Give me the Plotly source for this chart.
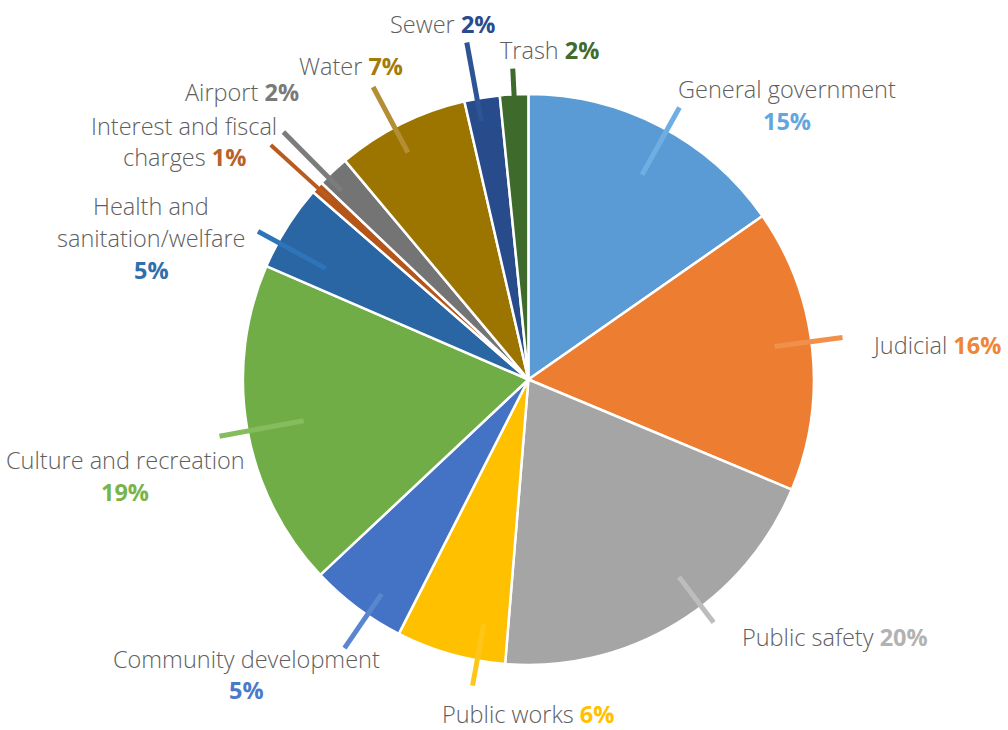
import math
import plotly.graph_objects as go

# ---------------- data ----------------
categories = [
    "General government", "Judicial", "Public safety", "Public works",
    "Community development", "Culture and recreation",
    "Health and sanitation/welfare", "Interest and fiscal charges",
    "Airport", "Water", "Sewer", "Trash",
]
shares = [15.3, 16.0, 20.0, 6.2, 5.5, 18.5, 4.9, 0.7, 1.8, 7.5, 2.0, 1.6]
pct_labels = ["15%", "16%", "20%", "6%", "5%", "19%", "5%", "1%", "2%", "7%", "2%", "2%"]

# ---------------- styles ----------------
slice_colors = ["#5B9BD5", "#ED7D31", "#A5A5A5", "#FFC000", "#4472C4", "#70AD47",
                "#2966A3", "#B4561A", "#747474", "#9C7500", "#284B8C", "#3E6B2C"]
leader_colors = ["#6FAEE3", "#F1904A", "#BDBDBD", "#FFC61A", "#5A86CF", "#84BC5E",
                 "#2E74B8", "#B95A1F", "#7C7C7C", "#B38E35", "#2D5494", "#3E6B2C"]
pct_colors = ["#63A6DE", "#EF8636", "#B2B2B2", "#FFC000", "#4B7ACB", "#78B44A",
              "#2E70AE", "#B9612A", "#7A7A7A", "#A37B08", "#2A4B8D", "#426C2C"]
leader_in = [0.82, 0.87, 0.87, 0.87, 0.91, 0.80, 0.81, 0.94, 0.93, 0.90, 0.92, 0.95]
leader_out = [1.09, 1.11, 1.07, 1.09, 1.14, 1.10, 1.08, 1.22, 1.22, 1.16, 1.20, 1.09]
leader_shift = [1.5, -1.5, -6.0, -5.5, -2.5, -0.5, -3.5, 0.0, -1.5, -1.5, -1.0, 0.0]
leader_width = [5, 5, 5, 5, 5, 5, 5, 4, 5, 5, 5, 5]

# label layout: text template and block centre (px)
label_tpl = [
    "General government<br>{p}", "Judicial {p}", "Public safety {p}", "Public works {p}",
    "Community development<br>{p}", "Culture and recreation<br>{p}",
    "Health and<br>sanitation/welfare<br>{p}", "Interest and fiscal<br>charges {p}",
    "Airport {p}", "Water {p}", "Sewer {p}", "Trash {p}",
]
label_pos = [(787, 105), (936, 345), (835, 637), (528, 714), (246, 674.5), (125, 476),
             (151, 238), (184, 141.5), (242, 92), (351, 66), (442, 24), (549, 50)]
LINE_GAP = 31.5
W, H = 1008, 730
CX, CY, R = 528.4, 379.5, 285.5
FONT = "Open Sans"
FONT_SIZE = 23.5
NAME_COLOR = "#5E5E5E"

fig = go.Figure()
fig.add_trace(go.Pie(
    labels=categories, values=shares, sort=False, direction="clockwise", rotation=0,
    textinfo="none", hoverinfo="label+percent", showlegend=False,
    marker=dict(colors=slice_colors, line=dict(color="white", width=2.5)),
    domain=dict(x=[(CX - R) / W, (CX + R) / W], y=[1 - (CY + R) / H, 1 - (CY - R) / H]),
))

# leader lines from slice mid-angles
total = sum(shares)
cum = 0.0
shapes = []
for i, v in enumerate(shares):
    mid = (cum + v / 2) / total * 360.0 + leader_shift[i]
    cum += v
    a = math.radians(mid)
    x0 = CX + R * leader_in[i] * math.sin(a)
    y0 = CY - R * leader_in[i] * math.cos(a)
    x1 = CX + R * leader_out[i] * math.sin(a)
    y1 = CY - R * leader_out[i] * math.cos(a)
    shapes.append(dict(type="line", xref="paper", yref="paper",
                       x0=x0 / W, y0=1 - y0 / H, x1=x1 / W, y1=1 - y1 / H,
                       line=dict(color=leader_colors[i], width=leader_width[i])))

annotations = []
for i, tpl in enumerate(label_tpl):
    pct = f"<b><span style='color:{pct_colors[i]}'>{pct_labels[i]}</span></b>"
    lines = tpl.format(p=pct).split("<br>")
    cx, cy = label_pos[i]
    n = len(lines)
    for j, ln in enumerate(lines):
        y = cy + (j - (n - 1) / 2) * LINE_GAP
        annotations.append(dict(
            text=ln, x=cx / W, y=1 - y / H, xref="paper", yref="paper",
            xanchor="center", yanchor="middle", showarrow=False,
            font=dict(family=FONT, size=FONT_SIZE, color=NAME_COLOR, weight=300),
        ))

fig.update_layout(
    width=W, height=H, margin=dict(l=0, r=0, t=0, b=0),
    paper_bgcolor="white", plot_bgcolor="white",
    shapes=shapes, annotations=annotations,
)
fig.write_html("out.html")
